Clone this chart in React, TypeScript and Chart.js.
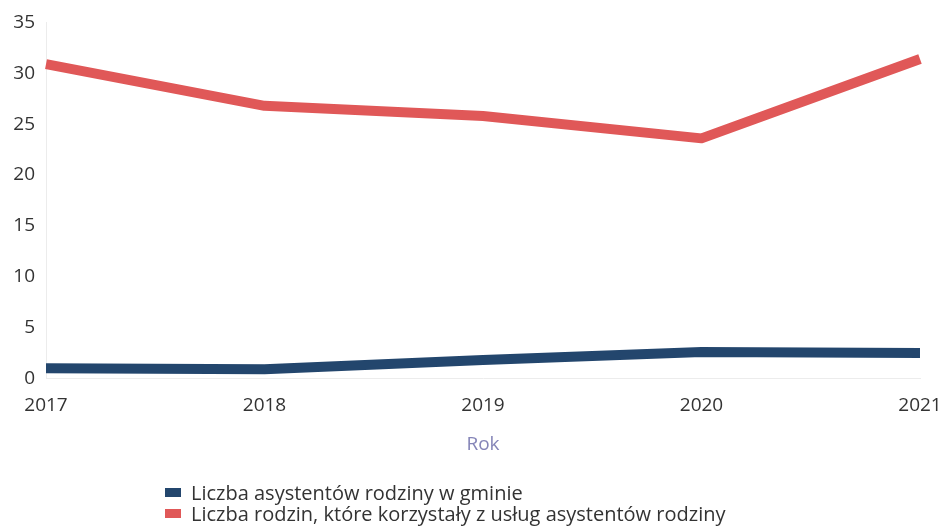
import React, { useEffect, useRef } from "react";
import { Chart, registerables } from "chart.js";

Chart.register(...registerables);

const years = ["2017", "2018", "2019", "2020", "2021"];
const assistants = [1.0, 0.9, 1.8, 2.6, 2.5];
const families = [30.9, 26.8, 25.8, 23.6, 31.4];
const seriesNames = [
  "Liczba asystentów rodziny w gminie",
  "Liczba rodzin, które korzystały z usług asystentów rodziny",
];
const seriesColors = ["#23466d", "#e05858"];
const xTitle = "Rok";

const FONT = "'Open Sans', 'DejaVu Sans', sans-serif";

export default function App() {
  const ref = useRef<HTMLCanvasElement | null>(null);

  useEffect(() => {
    document.body.style.margin = "0";
    const canvas = ref.current;
    if (!canvas) return;
    const chart = new Chart(canvas, {
      type: "line",
      data: {
        labels: years,
        datasets: [
          {
            label: seriesNames[0],
            data: assistants,
            borderColor: seriesColors[0],
            backgroundColor: seriesColors[0],
            borderWidth: 10,
            pointRadius: 0,
            tension: 0,
            borderCapStyle: "butt",
            borderJoinStyle: "round",
          },
          {
            label: seriesNames[1],
            data: families,
            borderColor: seriesColors[1],
            backgroundColor: seriesColors[1],
            borderWidth: 10,
            pointRadius: 0,
            tension: 0,
            borderCapStyle: "butt",
            borderJoinStyle: "round",
          },
        ],
      },
      options: {
        responsive: false,
        animation: false,
        layout: { padding: { left: 0, right: 24, top: 22, bottom: 72 } },
        plugins: {
          legend: { display: false },
          tooltip: { enabled: false },
        },
        scales: {
          x: {
            offset: false,
            grid: { display: false, drawTicks: false },
            border: { display: true, color: "#ececec", width: 1 },
            ticks: {
              color: "#333333",
              padding: 16,
              maxRotation: 0,
              font: { family: FONT, size: 19 },
            },
            title: {
              display: true,
              text: xTitle,
              color: "#8585b8",
              font: { family: FONT, size: 19 },
              padding: { top: 0, bottom: 0 },
            },
            afterFit: (scale: any) => {
              scale.paddingRight = 0;
              scale.paddingLeft = 0;
            },
          },
          y: {
            min: 0,
            max: 35,
            grid: { display: false, drawTicks: false },
            border: { display: true, color: "#ececec", width: 1 },
            ticks: {
              stepSize: 5,
              color: "#333333",
              padding: 11,
              font: { family: FONT, size: 19 },
            },
            afterFit: (scale: any) => {
              scale.width = 46;
            },
          },
        },
      },
    });
    return () => chart.destroy();
  }, []);

  return (
    <div style={{ position: "relative", width: 944, height: 528, background: "#fff" }}>
      <canvas ref={ref} width={944} height={528} style={{ display: "block" }} />
      <div
        style={{
          position: "absolute",
          left: 165,
          top: 482,
          fontFamily: FONT,
          fontSize: 20,
          color: "#333",
          lineHeight: "21px",
        }}
      >
        {seriesNames.map((n, i) => (
          <div key={n} style={{ display: "flex", alignItems: "center", whiteSpace: "nowrap" }}>
            <span
              style={{
                display: "inline-block",
                width: 16,
                height: 9,
                background: seriesColors[i],
                marginRight: 10,
              }}
            />
            <span>{n}</span>
          </div>
        ))}
      </div>
    </div>
  );
}
